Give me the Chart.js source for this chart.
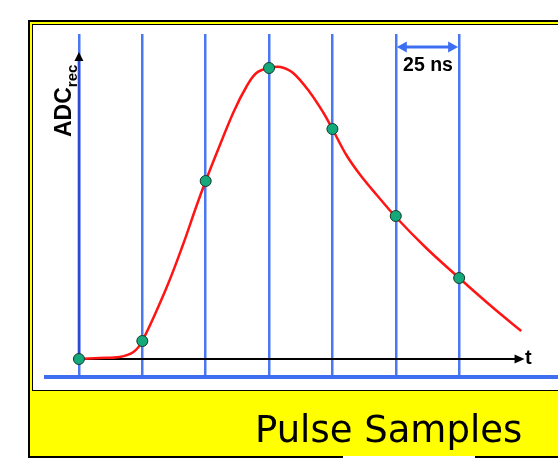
<!DOCTYPE html>
<html>
<head>
<meta charset="utf-8">
<script src="https://cdn.jsdelivr.net/npm/chart.js@4.4.1/dist/chart.umd.min.js"></script>
<style>
    body {
        margin: 0;
        width: 558px;
        height: 459px;
        overflow: hidden;
        background: #fff;
        position: relative;
    }
    .frame {
        position: absolute;
        left: 28px;
        top: 20px;
        width: 600px;
        height: 438px;
        box-sizing: border-box;
        border: 2px solid #000;
        background: #ffff00;
    }
    .panel {
        position: absolute;
        left: 32px;
        top: 24px;
        width: 600px;
        height: 367px;
        box-sizing: border-box;
        border: 1.5px solid #000;
        background: #fff;
    }
    .gap {
        position: absolute;
        left: 343px;
        top: 456px;
        width: 132px;
        height: 3px;
        background: #fff;
    }
    #pulse-chart {
        position: absolute;
        left: 0;
        top: 0;
    }
    .label {
        position: absolute;
        white-space: nowrap;
        color: #000;
    }
    #adc-label {
        left: 51.5px;
        top: 137px;
        font: bold 23px/23px "Liberation Sans", Arial, sans-serif;
        transform: rotate(-90deg);
        transform-origin: 0 0;
    }
    #adc-label span {
        font-size: 15px;
        position: relative;
        top: 6px;
    }
    #ns-label {
        left: 388px;
        width: 80px;
        top: 53.5px;
        text-align: center;
        font: bold 19.5px/20px "Liberation Sans", Arial, sans-serif;
    }
    #t-label {
        left: 525px;
        top: 347px;
        font: bold 20px/20px "Liberation Sans", Arial, sans-serif;
    }
    #title {
        left: 255px;
        top: 411px;
        font: 37px/37px "DejaVu Sans", sans-serif;
    }
</style>
</head>
<body>
<div class="frame"></div>
<div class="panel"></div>
<div class="gap"></div>
<canvas id="pulse-chart" width="558" height="459"></canvas>
<div class="label" id="adc-label">ADC<span>rec</span></div>
<div class="label" id="ns-label">25 ns</div>
<div class="label" id="t-label">t</div>
<div class="label" id="title">Pulse Samples</div>

<script>
// Отсчёты АЦП (каждые 25 нс)
const sampleTimes = [0, 25, 50, 75, 100, 125, 150];
const sampleValues = [0, 18, 178, 291, 230, 143, 81];

// Форма импульса (красная кривая)
const pulseTimes = [0, 8, 16, 21.5, 25, 34.5, 41, 46.5, 50, 54.5, 61, 66, 70, 75, 79.5,
    84.5, 91, 96.5, 100, 105.5, 111, 117.5, 125, 137, 150, 163.5, 174.5];
const pulseValues = [0, 1, 2, 7, 18, 71, 114, 154, 178, 207, 247, 272, 286, 291, 292,
    286, 267, 246, 230, 204, 184, 164, 142, 111, 81, 51, 28];

// Стрелки осей и отметка "25 ns" в единицах данных
const axisTop = 307;
const axisEnd = 175.8;
const spanFrom = 125;
const spanTo = 150;
const spanLevel = 312;

function arrowHead(ctx, tx, ty, angle, len, half, color) {
    ctx.save();
    ctx.translate(tx, ty);
    ctx.rotate(angle);
    ctx.fillStyle = color;
    ctx.beginPath();
    ctx.moveTo(0, 0);
    ctx.lineTo(-len, -half);
    ctx.lineTo(-len, half);
    ctx.closePath();
    ctx.fill();
    ctx.restore();
}

const arrowsPlugin = {
    id: 'arrows',
    beforeDatasetsDraw(chart) {
        const { ctx, scales: { x, y } } = chart;
        const x0 = x.getPixelForValue(0);
        const y0 = y.getPixelForValue(0);
        const yTop = y.getPixelForValue(axisTop);
        const xEnd = x.getPixelForValue(axisEnd);

        ctx.save();
        ctx.lineCap = 'butt';
        // вертикальная ось
        ctx.strokeStyle = '#2c4bd0';
        ctx.lineWidth = 2.5;
        ctx.beginPath();
        ctx.moveTo(x0, y0);
        ctx.lineTo(x0, yTop + 6);
        ctx.stroke();
        arrowHead(ctx, x0, yTop, -Math.PI / 2, 9, 4.5, '#000');

        // горизонтальная ось
        ctx.strokeStyle = '#000';
        ctx.lineWidth = 2;
        ctx.beginPath();
        ctx.moveTo(x0, y0);
        ctx.lineTo(xEnd - 6, y0);
        ctx.stroke();
        arrowHead(ctx, xEnd, y0, 0, 10, 4.5, '#000');

        // двойная стрелка 25 ns
        const xa = x.getPixelForValue(spanFrom);
        const xb = x.getPixelForValue(spanTo);
        const ys = y.getPixelForValue(spanLevel);
        ctx.strokeStyle = '#3d6ef2';
        ctx.lineWidth = 3;
        ctx.beginPath();
        ctx.moveTo(xa + 6, ys);
        ctx.lineTo(xb - 6, ys);
        ctx.stroke();
        arrowHead(ctx, xa + 1, ys, Math.PI, 10, 5.5, '#3d6ef2');
        arrowHead(ctx, xb - 1, ys, 0, 10, 5.5, '#3d6ef2');
        ctx.restore();
    }
};

const ctx = document.getElementById('pulse-chart').getContext('2d');
new Chart(ctx, {
    type: 'line',
    data: {
        datasets: [
            {
                label: 'Samples',
                data: sampleTimes.map((t, i) => ({ x: t, y: sampleValues[i] })),
                showLine: false,
                pointRadius: 5.5,
                pointBackgroundColor: '#14a97b',
                pointBorderColor: '#163a2c',
                pointBorderWidth: 1,
                order: 0
            },
            {
                label: 'Pulse',
                data: pulseTimes.map((t, i) => ({ x: t, y: pulseValues[i] })),
                borderColor: '#ff1414',
                borderWidth: 2.5,
                pointRadius: 0,
                tension: 0.35,
                fill: false,
                order: 1
            }
        ]
    },
    options: {
        responsive: false,
        animation: false,
        devicePixelRatio: 1,
        layout: {
            autoPadding: false,
            padding: { left: 46, top: 34, right: 0, bottom: 82 }
        },
        plugins: {
            legend: { display: false },
            tooltip: { enabled: false }
        },
        scales: {
            x: {
                type: 'linear',
                min: -13,
                max: 189,
                afterBuildTicks: scale => {
                    scale.ticks = sampleTimes.map(v => ({ value: v }));
                },
                ticks: { display: false },
                grid: {
                    color: '#4a78f5',
                    lineWidth: 2.5,
                    drawTicks: false
                },
                border: {
                    display: true,
                    color: '#3f6ff0',
                    width: 4
                }
            },
            y: {
                display: false,
                min: -18,
                max: 325
            }
        }
    },
    plugins: [arrowsPlugin]
});
</script>
</body>
</html>
